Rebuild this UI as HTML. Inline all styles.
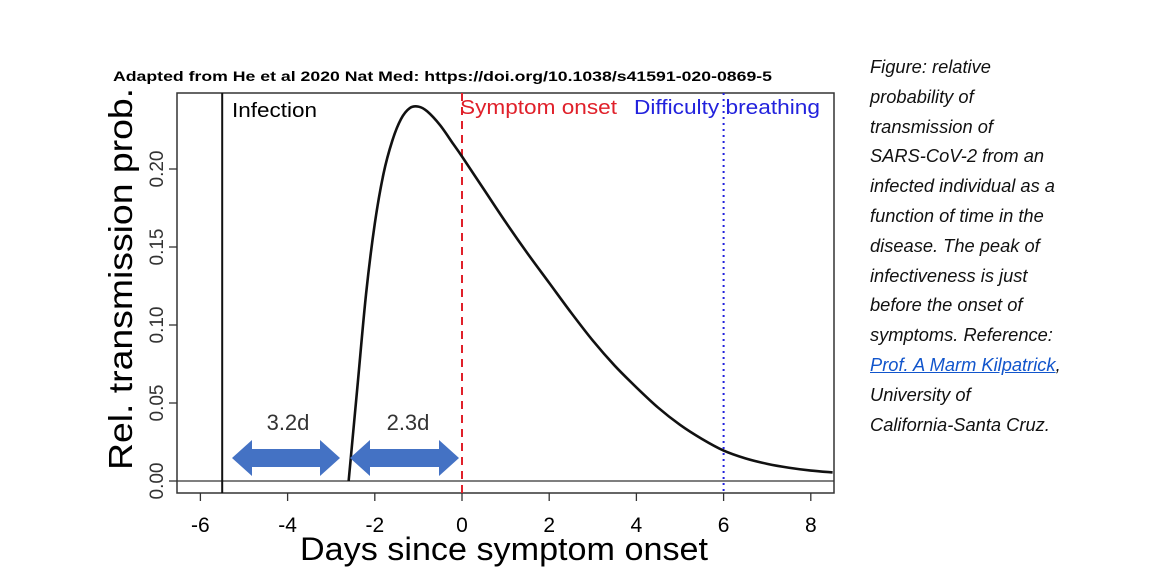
<!DOCTYPE html>
<html><head><meta charset="utf-8"><style>
body{margin:0;background:#fff;width:1158px;height:579px;overflow:hidden;position:relative;font-family:"Liberation Sans",sans-serif}
#cap{position:absolute;left:870px;top:52px;font-style:italic;font-size:18.3px;line-height:29.8px;color:#111;white-space:nowrap}
#cap a{color:#1155cc;text-decoration:underline}
</style></head><body>
<svg width="1158" height="579" style="position:absolute;left:0;top:0">
<text x="113" y="81" font-size="14" font-weight="bold" textLength="659" lengthAdjust="spacingAndGlyphs" font-family="Liberation Sans,sans-serif">Adapted from He et al 2020 Nat Med: https://doi.org/10.1038/s41591-020-0869-5</text>
<rect x="177" y="93" width="657" height="400" fill="none" stroke="#333" stroke-width="1.5"/>
<g id="xaxis"></g>
<g id="yaxis"></g>
<line x1="177" x2="834" y1="481" y2="481" stroke="#333" stroke-width="1.2"/>
<g id="marks"></g>
<text x="300" y="560" font-size="32" textLength="408" lengthAdjust="spacingAndGlyphs" font-family="Liberation Sans,sans-serif">Days since symptom onset</text>
<text transform="translate(132,470) rotate(-90)" font-size="33" textLength="382" lengthAdjust="spacingAndGlyphs" font-family="Liberation Sans,sans-serif">Rel. transmission prob.</text>
<text x="232" y="117" font-size="20" textLength="85" lengthAdjust="spacingAndGlyphs" font-family="Liberation Sans,sans-serif">Infection</text>
<text x="460" y="114" font-size="20" textLength="157" lengthAdjust="spacingAndGlyphs" fill="#e0202a" font-family="Liberation Sans,sans-serif">Symptom onset</text>
<text x="634" y="114" font-size="20" textLength="186" lengthAdjust="spacingAndGlyphs" fill="#2222dd" font-family="Liberation Sans,sans-serif">Difficulty breathing</text>
<path d="M232,458 L252,440 L252,449 L320,449 L320,440 L340,458 L320,476 L320,467 L252,467 L252,476 Z" fill="#4472c4"/>
<path d="M350,458 L370,440 L370,449 L439,449 L439,440 L459,458 L439,476 L439,467 L370,467 L370,476 Z" fill="#4472c4"/>
<text x="288" y="430" font-size="22" text-anchor="middle" fill="#333" font-family="Liberation Sans,sans-serif">3.2d</text>
<text x="408" y="430" font-size="22" text-anchor="middle" fill="#333" font-family="Liberation Sans,sans-serif">2.3d</text>
</svg>
<div id="cap">Figure: relative<br>probability of<br>transmission of<br>SARS-CoV-2 from an<br>infected individual as a<br>function of time in the<br>disease. The peak of<br>infectiveness is just<br>before the onset of<br>symptoms. Reference:<br><a>Prof. A Marm Kilpatrick</a>,<br>University of<br>California-Santa Cruz.</div>
<script>
const days=[-2.6,-2.4,-2.2,-2,-1.8,-1.6,-1.4,-1.2,-1.0,-0.8,-0.5,-0.2,0,0.5,1,1.5,2,2.5,3,3.5,4,4.5,5,5.5,6,6.5,7,7.5,8,8.5];
const prob=[0,0.06,0.12,0.165,0.197,0.218,0.232,0.239,0.24,0.237,0.228,0.216,0.208,0.187,0.166,0.146,0.127,0.108,0.09,0.074,0.06,0.047,0.036,0.027,0.0195,0.0145,0.011,0.0085,0.0067,0.0055];
const xTicks=[-6,-4,-2,0,2,4,6,8];
const yTicks=[0,0.05,0.1,0.15,0.2];
const yTickLabels=["0.00","0.05","0.10","0.15","0.20"];
const infectionDay=-5.5, onsetDay=0, breathingDay=6;
const X=d=>462+d*43.6, Y=v=>481-v*1560;
const NS="http://www.w3.org/2000/svg";
function mk(t,a,p){const e=document.createElementNS(NS,t);for(const k in a)e.setAttribute(k,a[k]);p.appendChild(e);return e;}
const xa=document.getElementById('xaxis'),ya=document.getElementById('yaxis'),m=document.getElementById('marks');
xTicks.forEach(t=>{const l=mk('line',{x1:X(t),x2:X(t),y1:493,y2:501,stroke:'#333','stroke-width':1.3},xa);


const tx=mk('text',{x:X(t),y:532,'font-size':21,'text-anchor':'middle','font-family':'Liberation Sans,sans-serif'},xa);tx.textContent=t;

});
yTicks.forEach((t,i)=>{const l=mk('line',{x1:169,x2:177,y1:Y(t),y2:Y(t),stroke:'#333','stroke-width':1.3},ya);


const tx=mk('text',{transform:`translate(163,${Y(t)}) rotate(-90)`,'font-size':19,'text-anchor':'middle','font-family':'Liberation Sans,sans-serif',fill:'#333'},ya);tx.textContent=yTickLabels[i];

});
const inf=mk('line',{x1:X(infectionDay),x2:X(infectionDay),y1:93,y2:493,stroke:'#111','stroke-width':2},m);


const on=mk('line',{x1:X(onsetDay),x2:X(onsetDay),y1:93,y2:493,stroke:'#e0202a','stroke-width':2,'stroke-dasharray':'8,6'},m);


const br=mk('line',{x1:X(breathingDay),x2:X(breathingDay),y1:93,y2:493,stroke:'#2222dd','stroke-width':2,'stroke-dasharray':'2,4'},m);


const pts=days.map((d,i)=>[X(d),Y(prob[i])]);
let dstr='M'+pts[0].join(',');
for(let i=0;i<pts.length-1;i++){const p0=pts[i-1]||pts[i],p1=pts[i],p2=pts[i+1],p3=pts[i+2]||p2;
dstr+=` C${p1[0]+(p2[0]-p0[0])/6},${p1[1]+(p2[1]-p0[1])/6} ${p2[0]-(p3[0]-p1[0])/6},${p2[1]-(p3[1]-p1[1])/6} ${p2[0]},${p2[1]}`;}
const c=mk('path',{d:dstr,fill:'none',stroke:'#111','stroke-width':2.6},m);


</script>
</body></html>
